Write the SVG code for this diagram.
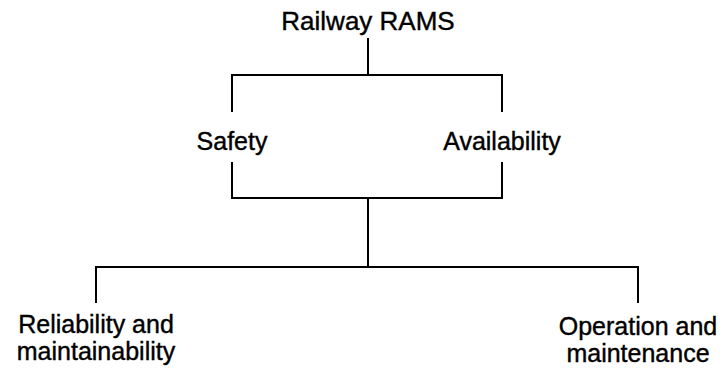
<svg xmlns="http://www.w3.org/2000/svg" width="723" height="372" viewBox="0 0 723 372">
<style>
text{font-family:"Liberation Sans",Arial,sans-serif;font-size:25px;fill:#000;stroke:#000;stroke-width:0.4;text-anchor:middle}
.c{stroke:#000;stroke-width:2;fill:none}
</style>
<rect width="723" height="372" fill="#fff"/>
<g id="connectors">
<path class="c" d="M368,38V75M232,112V75H502V112"/>
<path class="c" d="M232,162V198H502V162M368,198V267"/>
<path class="c" d="M96,303V267H638V303"/>
</g>
<g id="rams"><text x="368" y="30" style="font-size:26px">Railway RAMS</text></g>
<g id="safety"><text x="232" y="150">Safety</text></g>
<g id="availability"><text x="502" y="150">Availability</text></g>
<g id="reliability"><text x="96" y="333">Reliability and</text><text x="96" y="360">maintainability</text></g>
<g id="operation"><text x="638" y="335">Operation and</text><text x="638" y="362">maintenance</text></g>
</svg>
